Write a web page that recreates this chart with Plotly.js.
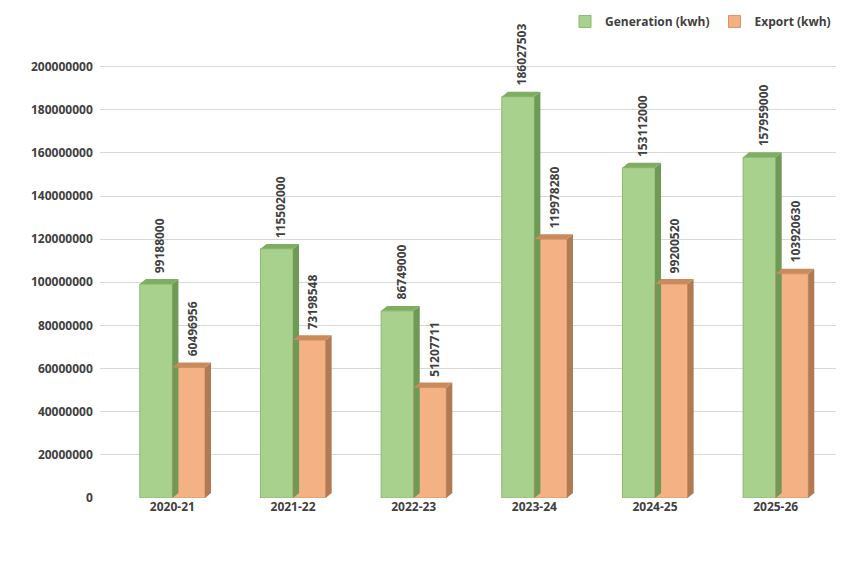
<!DOCTYPE html>
<html><head><script src="https://cdn.plot.ly/plotly-3.0.1.min.js"></script></head>
<body style="margin:0"><div id="chart" style="width:866px;height:563px"></div>
<script>
const years = ["2020-21","2021-22","2022-23","2023-24","2024-25","2025-26"];
const generation = [99188000,115502000,86749000,186027503,153112000,157959000];
const exportKwh = [60496956,73198548,51207711,119978280,99200520,103920630];

const xs = years.map((_, i) => i);
const gap = 0.46, w = (1 - gap) / 2;
const dx = 0.05, dy = 2300000;

function depth(vals, off, col) {
  const s = [];
  vals.forEach((v, i) => {
    const r = i + off + w / 2, l = i + off - w / 2;
    s.push({type:"path", layer:"above", line:{width:0}, fillcolor:col.side,
      path:`M${r},0 L${r+dx},${dy} L${r+dx},${v+dy} L${r},${v} Z`});
    s.push({type:"path", layer:"above", line:{width:0}, fillcolor:col.top,
      path:`M${l},${v} L${l+dx},${v+dy} L${r+dx},${v+dy} L${r},${v} Z`});
  });
  return s;
}
const shapes = depth(generation, -w/2, {side:"#6f9a55", top:"#7fae62"})
  .concat(depth(exportKwh, w/2, {side:"#b07a52", top:"#c98b5e"}));

const font = {family:"Open Sans, Liberation Sans, sans-serif", size:12, color:"#404040", weight:"bold"};
const labels = [];
[[generation, -w/2], [exportKwh, w/2]].forEach(([vals, off]) => {
  vals.forEach((v, i) => labels.push({x:i + off + 0.03, y:v + dy, text:String(v), textangle:-90,
    showarrow:false, yanchor:"bottom", yshift:4, font:font}));
});

const data = [
  {x:xs, y:generation, type:"bar", name:"Generation (kwh)", marker:{color:"#a9d18e", line:{color:"#8bb870", width:1}}},
  {x:xs, y:exportKwh, type:"bar", name:"Export (kwh)", marker:{color:"#f4b183", line:{color:"#d99468", width:1}}}
];
Plotly.newPlot("chart", data, {
  width:866, height:563, margin:{l:100, r:30, t:45, b:65, autoexpand:false},
  barmode:"group", bargap:gap, bargroupgap:0, font:font,
  paper_bgcolor:"#fff", plot_bgcolor:"#fff", shapes:shapes, annotations:labels,
  xaxis:{tickvals:xs, ticktext:years, range:[-0.6,5.5], showgrid:false, zeroline:false, showline:false, ticks:"", tickfont:font},
  yaxis:{range:[0,210000000], dtick:20000000, tickformat:"d", gridcolor:"#d9d9d9", zeroline:false, showline:false, tickfont:font, ticksuffix:"  "},
  legend:{orientation:"h", x:1, xanchor:"right", y:1.02, yanchor:"bottom", font:font},
  showlegend:true
}, {displayModeBar:false});
</script></body></html>
